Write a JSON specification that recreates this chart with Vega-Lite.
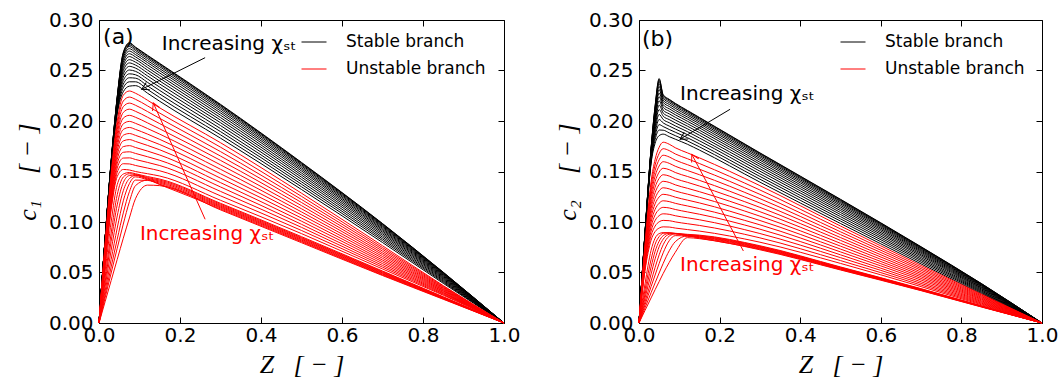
{
"$schema":"https://vega.github.io/schema/vega-lite/v6.json",
"background":"white",
"padding":{"left":13,"top":9,"right":5,"bottom":5},
"bounds":"flush",
"spacing":135,
"datasets":{
"as":[
{"i":0,"z":0,"c":0},{"i":0,"z":0.015,"c":0.083},{"i":0,"z":0.03,"c":0.160},{"i":0,"z":0.045,"c":0.224},{"i":0,"z":0.06,"c":0.268},{"i":0,"z":0.075,"c":0.2775},{"i":0,"z":0.09,"c":0.2732},{"i":0,"z":0.12,"c":0.2650},{"i":0,"z":0.15,"c":0.2570},{"i":0,"z":0.3,"c":0.2165},{"i":0,"z":0.5,"c":0.1590},{"i":0,"z":0.7,"c":0.0985},{"i":0,"z":0.85,"c":0.0503},{"i":0,"z":1,"c":0},
{"i":1,"z":0,"c":0},{"i":1,"z":0.015,"c":0.083},{"i":1,"z":0.03,"c":0.160},{"i":1,"z":0.045,"c":0.2237},{"i":1,"z":0.06,"c":0.2673},{"i":1,"z":0.075,"c":0.2768},{"i":1,"z":0.09,"c":0.2726},{"i":1,"z":0.12,"c":0.2644},{"i":1,"z":0.15,"c":0.2564},{"i":1,"z":0.3,"c":0.2159},{"i":1,"z":0.5,"c":0.1585},{"i":1,"z":0.7,"c":0.0982},{"i":1,"z":0.85,"c":0.0501},{"i":1,"z":1,"c":0},
{"i":2,"z":0,"c":0},{"i":2,"z":0.015,"c":0.083},{"i":2,"z":0.03,"c":0.160},{"i":2,"z":0.045,"c":0.2232},{"i":2,"z":0.06,"c":0.2661},{"i":2,"z":0.075,"c":0.2754},{"i":2,"z":0.09,"c":0.2713},{"i":2,"z":0.12,"c":0.2632},{"i":2,"z":0.15,"c":0.2552},{"i":2,"z":0.3,"c":0.2149},{"i":2,"z":0.5,"c":0.1577},{"i":2,"z":0.7,"c":0.0976},{"i":2,"z":0.85,"c":0.0498},{"i":2,"z":1,"c":0},
{"i":3,"z":0,"c":0},{"i":3,"z":0.015,"c":0.083},{"i":3,"z":0.03,"c":0.160},{"i":3,"z":0.045,"c":0.2225},{"i":3,"z":0.06,"c":0.2645},{"i":3,"z":0.075,"c":0.2737},{"i":3,"z":0.09,"c":0.2698},{"i":3,"z":0.12,"c":0.2617},{"i":3,"z":0.15,"c":0.2537},{"i":3,"z":0.3,"c":0.2135},{"i":3,"z":0.5,"c":0.1566},{"i":3,"z":0.7,"c":0.0968},{"i":3,"z":0.85,"c":0.0493},{"i":3,"z":1,"c":0},
{"i":4,"z":0,"c":0},{"i":4,"z":0.015,"c":0.0829},{"i":4,"z":0.03,"c":0.159},{"i":4,"z":0.045,"c":0.2217},{"i":4,"z":0.06,"c":0.2626},{"i":4,"z":0.075,"c":0.2716},{"i":4,"z":0.09,"c":0.2679},{"i":4,"z":0.12,"c":0.2598},{"i":4,"z":0.15,"c":0.2518},{"i":4,"z":0.3,"c":0.2119},{"i":4,"z":0.5,"c":0.1553},{"i":4,"z":0.7,"c":0.0959},{"i":4,"z":0.85,"c":0.0488},{"i":4,"z":1,"c":0},
{"i":5,"z":0,"c":0},{"i":5,"z":0.015,"c":0.0828},{"i":5,"z":0.03,"c":0.159},{"i":5,"z":0.045,"c":0.2207},{"i":5,"z":0.06,"c":0.2605},{"i":5,"z":0.075,"c":0.2692},{"i":5,"z":0.09,"c":0.2658},{"i":5,"z":0.12,"c":0.2578},{"i":5,"z":0.15,"c":0.2498},{"i":5,"z":0.3,"c":0.2100},{"i":5,"z":0.5,"c":0.1538},{"i":5,"z":0.7,"c":0.0949},{"i":5,"z":0.85,"c":0.0482},{"i":5,"z":1,"c":0},
{"i":6,"z":0,"c":0},{"i":6,"z":0.015,"c":0.0827},{"i":6,"z":0.03,"c":0.159},{"i":6,"z":0.045,"c":0.2197},{"i":6,"z":0.06,"c":0.2581},{"i":6,"z":0.075,"c":0.2666},{"i":6,"z":0.09,"c":0.2635},{"i":6,"z":0.12,"c":0.2555},{"i":6,"z":0.15,"c":0.2475},{"i":6,"z":0.3,"c":0.2080},{"i":6,"z":0.5,"c":0.1522},{"i":6,"z":0.7,"c":0.0937},{"i":6,"z":0.85,"c":0.0475},{"i":6,"z":1,"c":0},
{"i":7,"z":0,"c":0},{"i":7,"z":0.015,"c":0.0827},{"i":7,"z":0.03,"c":0.158},{"i":7,"z":0.045,"c":0.2186},{"i":7,"z":0.06,"c":0.2556},{"i":7,"z":0.075,"c":0.2638},{"i":7,"z":0.09,"c":0.2610},{"i":7,"z":0.12,"c":0.2530},{"i":7,"z":0.15,"c":0.2450},{"i":7,"z":0.3,"c":0.2058},{"i":7,"z":0.5,"c":0.1505},{"i":7,"z":0.7,"c":0.0925},{"i":7,"z":0.85,"c":0.0468},{"i":7,"z":1,"c":0},
{"i":8,"z":0,"c":0},{"i":8,"z":0.015,"c":0.0826},{"i":8,"z":0.03,"c":0.158},{"i":8,"z":0.045,"c":0.2174},{"i":8,"z":0.06,"c":0.2528},{"i":8,"z":0.075,"c":0.2607},{"i":8,"z":0.09,"c":0.2583},{"i":8,"z":0.12,"c":0.2504},{"i":8,"z":0.15,"c":0.2424},{"i":8,"z":0.3,"c":0.2034},{"i":8,"z":0.5,"c":0.1485},{"i":8,"z":0.7,"c":0.0912},{"i":8,"z":0.85,"c":0.0460},{"i":8,"z":1,"c":0},
{"i":9,"z":0,"c":0},{"i":9,"z":0.015,"c":0.0825},{"i":9,"z":0.03,"c":0.158},{"i":9,"z":0.045,"c":0.2161},{"i":9,"z":0.06,"c":0.2499},{"i":9,"z":0.075,"c":0.2575},{"i":9,"z":0.09,"c":0.2554},{"i":9,"z":0.12,"c":0.2476},{"i":9,"z":0.15,"c":0.2396},{"i":9,"z":0.3,"c":0.2009},{"i":9,"z":0.5,"c":0.1465},{"i":9,"z":0.7,"c":0.0898},{"i":9,"z":0.85,"c":0.0452},{"i":9,"z":1,"c":0},
{"i":10,"z":0,"c":0},{"i":10,"z":0.015,"c":0.0825},{"i":10,"z":0.03,"c":0.157},{"i":10,"z":0.045,"c":0.2148},{"i":10,"z":0.06,"c":0.2468},{"i":10,"z":0.075,"c":0.2541},{"i":10,"z":0.09,"c":0.2524},{"i":10,"z":0.12,"c":0.2446},{"i":10,"z":0.15,"c":0.2366},{"i":10,"z":0.3,"c":0.1983},{"i":10,"z":0.5,"c":0.1444},{"i":10,"z":0.7,"c":0.0883},{"i":10,"z":0.85,"c":0.0443},{"i":10,"z":1,"c":0},
{"i":11,"z":0,"c":0},{"i":11,"z":0.015,"c":0.0824},{"i":11,"z":0.03,"c":0.157},{"i":11,"z":0.045,"c":0.2133},{"i":11,"z":0.06,"c":0.2435},{"i":11,"z":0.075,"c":0.2505},{"i":11,"z":0.09,"c":0.2492},{"i":11,"z":0.12,"c":0.2415},{"i":11,"z":0.15,"c":0.2335},{"i":11,"z":0.3,"c":0.1955},{"i":11,"z":0.5,"c":0.1422},{"i":11,"z":0.7,"c":0.0867},{"i":11,"z":0.85,"c":0.0434},{"i":11,"z":1,"c":0},
{"i":12,"z":0,"c":0},{"i":12,"z":0.015,"c":0.0823},{"i":12,"z":0.03,"c":0.156},{"i":12,"z":0.045,"c":0.2118},{"i":12,"z":0.06,"c":0.2401},{"i":12,"z":0.075,"c":0.2467},{"i":12,"z":0.09,"c":0.2458},{"i":12,"z":0.12,"c":0.2382},{"i":12,"z":0.15,"c":0.2302},{"i":12,"z":0.3,"c":0.1925},{"i":12,"z":0.5,"c":0.1398},{"i":12,"z":0.7,"c":0.0850},{"i":12,"z":0.85,"c":0.0424},{"i":12,"z":1,"c":0},
{"i":13,"z":0,"c":0},{"i":13,"z":0.015,"c":0.0822},{"i":13,"z":0.03,"c":0.156},{"i":13,"z":0.045,"c":0.2103},{"i":13,"z":0.06,"c":0.2365},{"i":13,"z":0.075,"c":0.2428},{"i":13,"z":0.09,"c":0.2424},{"i":13,"z":0.12,"c":0.2347},{"i":13,"z":0.15,"c":0.2267},{"i":13,"z":0.3,"c":0.1895},{"i":13,"z":0.5,"c":0.1374},{"i":13,"z":0.7,"c":0.0833},{"i":13,"z":0.85,"c":0.0414},{"i":13,"z":1,"c":0},
{"i":14,"z":0,"c":0},{"i":14,"z":0.015,"c":0.0821},{"i":14,"z":0.03,"c":0.155},{"i":14,"z":0.045,"c":0.2087},{"i":14,"z":0.06,"c":0.2329},{"i":14,"z":0.075,"c":0.2388},{"i":14,"z":0.09,"c":0.2388},{"i":14,"z":0.12,"c":0.2312},{"i":14,"z":0.15,"c":0.2232},{"i":14,"z":0.3,"c":0.1863},{"i":14,"z":0.5,"c":0.1349},{"i":14,"z":0.7,"c":0.0816},{"i":14,"z":0.85,"c":0.0404},{"i":14,"z":1,"c":0},
{"i":15,"z":0,"c":0},{"i":15,"z":0.015,"c":0.082},{"i":15,"z":0.03,"c":0.155},{"i":15,"z":0.045,"c":0.207},{"i":15,"z":0.06,"c":0.229},{"i":15,"z":0.075,"c":0.2345},{"i":15,"z":0.09,"c":0.2350},{"i":15,"z":0.12,"c":0.2275},{"i":15,"z":0.15,"c":0.2195},{"i":15,"z":0.3,"c":0.1830},{"i":15,"z":0.5,"c":0.1322},{"i":15,"z":0.7,"c":0.0797},{"i":15,"z":0.85,"c":0.0393},{"i":15,"z":1,"c":0}
],
"au":[
{"i":0,"z":0,"c":0},{"i":0,"z":0.015,"c":0.078},{"i":0,"z":0.03,"c":0.148},{"i":0,"z":0.045,"c":0.200},{"i":0,"z":0.06,"c":0.2255},{"i":0,"z":0.075,"c":0.2297},{"i":0,"z":0.09,"c":0.2275},{"i":0,"z":0.12,"c":0.2205},{"i":0,"z":0.15,"c":0.213},{"i":0,"z":0.3,"c":0.1785},{"i":0,"z":0.5,"c":0.1285},{"i":0,"z":0.7,"c":0.0765},{"i":0,"z":0.85,"c":0.0370},{"i":0,"z":1,"c":0},
{"i":1,"z":0,"c":0},{"i":1,"z":0.015,"c":0.0764},{"i":1,"z":0.03,"c":0.1452},{"i":1,"z":0.045,"c":0.1958},{"i":1,"z":0.06,"c":0.2198},{"i":1,"z":0.075,"c":0.2237},{"i":1,"z":0.09,"c":0.2215},{"i":1,"z":0.12,"c":0.2149},{"i":1,"z":0.15,"c":0.2078},{"i":1,"z":0.3,"c":0.1741},{"i":1,"z":0.5,"c":0.1254},{"i":1,"z":0.7,"c":0.0747},{"i":1,"z":0.85,"c":0.0363},{"i":1,"z":1,"c":0},
{"i":2,"z":0,"c":0},{"i":2,"z":0.015,"c":0.0748},{"i":2,"z":0.03,"c":0.1425},{"i":2,"z":0.045,"c":0.1915},{"i":2,"z":0.06,"c":0.2142},{"i":2,"z":0.075,"c":0.2177},{"i":2,"z":0.09,"c":0.2156},{"i":2,"z":0.12,"c":0.2093},{"i":2,"z":0.15,"c":0.2026},{"i":2,"z":0.3,"c":0.1697},{"i":2,"z":0.5,"c":0.1223},{"i":2,"z":0.7,"c":0.0730},{"i":2,"z":0.85,"c":0.0355},{"i":2,"z":1,"c":0},
{"i":3,"z":0,"c":0},{"i":3,"z":0.015,"c":0.0732},{"i":3,"z":0.03,"c":0.1397},{"i":3,"z":0.045,"c":0.1873},{"i":3,"z":0.06,"c":0.2085},{"i":3,"z":0.075,"c":0.2117},{"i":3,"z":0.09,"c":0.2096},{"i":3,"z":0.12,"c":0.2037},{"i":3,"z":0.15,"c":0.1974},{"i":3,"z":0.3,"c":0.1653},{"i":3,"z":0.5,"c":0.1193},{"i":3,"z":0.7,"c":0.0712},{"i":3,"z":0.85,"c":0.0348},{"i":3,"z":1,"c":0},
{"i":4,"z":0,"c":0},{"i":4,"z":0.015,"c":0.0715},{"i":4,"z":0.03,"c":0.1369},{"i":4,"z":0.045,"c":0.1831},{"i":4,"z":0.06,"c":0.2029},{"i":4,"z":0.075,"c":0.2056},{"i":4,"z":0.09,"c":0.2037},{"i":4,"z":0.12,"c":0.1981},{"i":4,"z":0.15,"c":0.1922},{"i":4,"z":0.3,"c":0.1610},{"i":4,"z":0.5,"c":0.1162},{"i":4,"z":0.7,"c":0.0694},{"i":4,"z":0.85,"c":0.0341},{"i":4,"z":1,"c":0},
{"i":5,"z":0,"c":0},{"i":5,"z":0.015,"c":0.0699},{"i":5,"z":0.03,"c":0.1342},{"i":5,"z":0.045,"c":0.1788},{"i":5,"z":0.06,"c":0.1972},{"i":5,"z":0.075,"c":0.1996},{"i":5,"z":0.09,"c":0.1977},{"i":5,"z":0.12,"c":0.1925},{"i":5,"z":0.15,"c":0.1870},{"i":5,"z":0.3,"c":0.1566},{"i":5,"z":0.5,"c":0.1131},{"i":5,"z":0.7,"c":0.0677},{"i":5,"z":0.85,"c":0.0333},{"i":5,"z":1,"c":0},
{"i":6,"z":0,"c":0},{"i":6,"z":0.015,"c":0.0683},{"i":6,"z":0.03,"c":0.1314},{"i":6,"z":0.045,"c":0.1746},{"i":6,"z":0.06,"c":0.1916},{"i":6,"z":0.075,"c":0.1936},{"i":6,"z":0.09,"c":0.1917},{"i":6,"z":0.12,"c":0.1870},{"i":6,"z":0.15,"c":0.1818},{"i":6,"z":0.3,"c":0.1522},{"i":6,"z":0.5,"c":0.1100},{"i":6,"z":0.7,"c":0.0659},{"i":6,"z":0.85,"c":0.0326},{"i":6,"z":1,"c":0},
{"i":7,"z":0,"c":0},{"i":7,"z":0.015,"c":0.0667},{"i":7,"z":0.03,"c":0.1286},{"i":7,"z":0.045,"c":0.1704},{"i":7,"z":0.06,"c":0.1859},{"i":7,"z":0.075,"c":0.1876},{"i":7,"z":0.09,"c":0.1858},{"i":7,"z":0.12,"c":0.1814},{"i":7,"z":0.15,"c":0.1767},{"i":7,"z":0.3,"c":0.1478},{"i":7,"z":0.5,"c":0.1070},{"i":7,"z":0.7,"c":0.0641},{"i":7,"z":0.85,"c":0.0319},{"i":7,"z":1,"c":0},
{"i":8,"z":0,"c":0},{"i":8,"z":0.015,"c":0.0651},{"i":8,"z":0.03,"c":0.1258},{"i":8,"z":0.045,"c":0.1662},{"i":8,"z":0.06,"c":0.1803},{"i":8,"z":0.075,"c":0.1816},{"i":8,"z":0.09,"c":0.1798},{"i":8,"z":0.12,"c":0.1758},{"i":8,"z":0.15,"c":0.1715},{"i":8,"z":0.3,"c":0.1434},{"i":8,"z":0.5,"c":0.1039},{"i":8,"z":0.7,"c":0.0623},{"i":8,"z":0.85,"c":0.0312},{"i":8,"z":1,"c":0},
{"i":9,"z":0,"c":0},{"i":9,"z":0.015,"c":0.0635},{"i":9,"z":0.03,"c":0.1231},{"i":9,"z":0.045,"c":0.1619},{"i":9,"z":0.06,"c":0.1746},{"i":9,"z":0.075,"c":0.1756},{"i":9,"z":0.09,"c":0.1738},{"i":9,"z":0.12,"c":0.1702},{"i":9,"z":0.15,"c":0.1663},{"i":9,"z":0.3,"c":0.1390},{"i":9,"z":0.5,"c":0.1008},{"i":9,"z":0.7,"c":0.0606},{"i":9,"z":0.85,"c":0.0304},{"i":9,"z":1,"c":0},
{"i":10,"z":0,"c":0},{"i":10,"z":0.015,"c":0.0618},{"i":10,"z":0.03,"c":0.1203},{"i":10,"z":0.045,"c":0.1577},{"i":10,"z":0.06,"c":0.1690},{"i":10,"z":0.075,"c":0.1695},{"i":10,"z":0.09,"c":0.1679},{"i":10,"z":0.12,"c":0.1646},{"i":10,"z":0.15,"c":0.1611},{"i":10,"z":0.3,"c":0.1347},{"i":10,"z":0.5,"c":0.0977},{"i":10,"z":0.7,"c":0.0588},{"i":10,"z":0.85,"c":0.0297},{"i":10,"z":1,"c":0},
{"i":11,"z":0,"c":0},{"i":11,"z":0.015,"c":0.0602},{"i":11,"z":0.03,"c":0.1175},{"i":11,"z":0.045,"c":0.1535},{"i":11,"z":0.06,"c":0.1633},{"i":11,"z":0.075,"c":0.1635},{"i":11,"z":0.09,"c":0.1619},{"i":11,"z":0.12,"c":0.1590},{"i":11,"z":0.15,"c":0.1559},{"i":11,"z":0.3,"c":0.1303},{"i":11,"z":0.5,"c":0.0947},{"i":11,"z":0.7,"c":0.0570},{"i":11,"z":0.85,"c":0.0290},{"i":11,"z":1,"c":0},
{"i":12,"z":0,"c":0},{"i":12,"z":0.015,"c":0.0586},{"i":12,"z":0.03,"c":0.1148},{"i":12,"z":0.045,"c":0.1492},{"i":12,"z":0.06,"c":0.1577},{"i":12,"z":0.075,"c":0.1575},{"i":12,"z":0.09,"c":0.1560},{"i":12,"z":0.12,"c":0.1534},{"i":12,"z":0.15,"c":0.1507},{"i":12,"z":0.3,"c":0.1259},{"i":12,"z":0.5,"c":0.0916},{"i":12,"z":0.7,"c":0.0553},{"i":12,"z":0.85,"c":0.0282},{"i":12,"z":1,"c":0},
{"i":13,"z":0,"c":0},{"i":13,"z":0.015,"c":0.057},{"i":13,"z":0.03,"c":0.112},{"i":13,"z":0.045,"c":0.145},{"i":13,"z":0.06,"c":0.152},{"i":13,"z":0.075,"c":0.1515},{"i":13,"z":0.09,"c":0.150},{"i":13,"z":0.12,"c":0.1478},{"i":13,"z":0.15,"c":0.1455},{"i":13,"z":0.3,"c":0.1215},{"i":13,"z":0.5,"c":0.0885},{"i":13,"z":0.7,"c":0.0535},{"i":13,"z":0.85,"c":0.0275},{"i":13,"z":1,"c":0},
{"i":14,"z":0,"c":0},{"i":14,"z":0.015,"c":0.051},{"i":14,"z":0.03,"c":0.100},{"i":14,"z":0.045,"c":0.137},{"i":14,"z":0.06,"c":0.1475},{"i":14,"z":0.075,"c":0.149},{"i":14,"z":0.09,"c":0.1478},{"i":14,"z":0.12,"c":0.1450},{"i":14,"z":0.15,"c":0.1425},{"i":14,"z":0.3,"c":0.1185},{"i":14,"z":0.5,"c":0.0855},{"i":14,"z":0.7,"c":0.0515},{"i":14,"z":0.85,"c":0.0260},{"i":14,"z":1,"c":0},
{"i":15,"z":0,"c":0},{"i":15,"z":0.015,"c":0.045},{"i":15,"z":0.03,"c":0.089},{"i":15,"z":0.045,"c":0.127},{"i":15,"z":0.06,"c":0.1445},{"i":15,"z":0.075,"c":0.1478},{"i":15,"z":0.09,"c":0.1470},{"i":15,"z":0.12,"c":0.1440},{"i":15,"z":0.15,"c":0.1415},{"i":15,"z":0.3,"c":0.1176},{"i":15,"z":0.5,"c":0.0846},{"i":15,"z":0.7,"c":0.0509},{"i":15,"z":0.85,"c":0.0256},{"i":15,"z":1,"c":0},
{"i":16,"z":0,"c":0},{"i":16,"z":0.015,"c":0.0405},{"i":16,"z":0.03,"c":0.081},{"i":16,"z":0.045,"c":0.117},{"i":16,"z":0.06,"c":0.139},{"i":16,"z":0.075,"c":0.146},{"i":16,"z":0.09,"c":0.1465},{"i":16,"z":0.12,"c":0.1432},{"i":16,"z":0.15,"c":0.1405},{"i":16,"z":0.3,"c":0.1166},{"i":16,"z":0.5,"c":0.0838},{"i":16,"z":0.7,"c":0.0502},{"i":16,"z":0.85,"c":0.0253},{"i":16,"z":1,"c":0},
{"i":17,"z":0,"c":0},{"i":17,"z":0.015,"c":0.036},{"i":17,"z":0.03,"c":0.072},{"i":17,"z":0.045,"c":0.106},{"i":17,"z":0.06,"c":0.131},{"i":17,"z":0.075,"c":0.143},{"i":17,"z":0.09,"c":0.1460},{"i":17,"z":0.12,"c":0.1425},{"i":17,"z":0.15,"c":0.1395},{"i":17,"z":0.3,"c":0.1157},{"i":17,"z":0.5,"c":0.0829},{"i":17,"z":0.7,"c":0.0496},{"i":17,"z":0.85,"c":0.0249},{"i":17,"z":1,"c":0},
{"i":18,"z":0,"c":0},{"i":18,"z":0.015,"c":0.0315},{"i":18,"z":0.03,"c":0.063},{"i":18,"z":0.045,"c":0.094},{"i":18,"z":0.06,"c":0.121},{"i":18,"z":0.075,"c":0.138},{"i":18,"z":0.09,"c":0.1447},{"i":18,"z":0.12,"c":0.1418},{"i":18,"z":0.15,"c":0.1385},{"i":18,"z":0.3,"c":0.1148},{"i":18,"z":0.5,"c":0.0821},{"i":18,"z":0.7,"c":0.0489},{"i":18,"z":0.85,"c":0.0246},{"i":18,"z":1,"c":0},
{"i":19,"z":0,"c":0},{"i":19,"z":0.015,"c":0.0278},{"i":19,"z":0.03,"c":0.0555},{"i":19,"z":0.045,"c":0.083},{"i":19,"z":0.06,"c":0.109},{"i":19,"z":0.075,"c":0.130},{"i":19,"z":0.09,"c":0.1415},{"i":19,"z":0.12,"c":0.1412},{"i":19,"z":0.15,"c":0.1375},{"i":19,"z":0.3,"c":0.1139},{"i":19,"z":0.5,"c":0.0812},{"i":19,"z":0.7,"c":0.0483},{"i":19,"z":0.85,"c":0.0242},{"i":19,"z":1,"c":0},
{"i":20,"z":0,"c":0},{"i":20,"z":0.015,"c":0.0248},{"i":20,"z":0.03,"c":0.0495},{"i":20,"z":0.045,"c":0.074},{"i":20,"z":0.06,"c":0.098},{"i":20,"z":0.075,"c":0.120},{"i":20,"z":0.09,"c":0.136},{"i":20,"z":0.12,"c":0.1415},{"i":20,"z":0.15,"c":0.1370},{"i":20,"z":0.3,"c":0.1129},{"i":20,"z":0.5,"c":0.0804},{"i":20,"z":0.7,"c":0.0476},{"i":20,"z":0.85,"c":0.0239},{"i":20,"z":1,"c":0},
{"i":21,"z":0,"c":0},{"i":21,"z":0.015,"c":0.021},{"i":21,"z":0.03,"c":0.042},{"i":21,"z":0.045,"c":0.063},{"i":21,"z":0.06,"c":0.084},{"i":21,"z":0.075,"c":0.104},{"i":21,"z":0.09,"c":0.123},{"i":21,"z":0.12,"c":0.1365},{"i":21,"z":0.15,"c":0.1360},{"i":21,"z":0.3,"c":0.1120},{"i":21,"z":0.5,"c":0.0795},{"i":21,"z":0.7,"c":0.0470},{"i":21,"z":0.85,"c":0.0235},{"i":21,"z":1,"c":0}
],
"bs":[
{"i":0,"z":0,"c":0},{"i":0,"z":0.015,"c":0.090},{"i":0,"z":0.03,"c":0.173},{"i":0,"z":0.04,"c":0.215},{"i":0,"z":0.05,"c":0.242},{"i":0,"z":0.06,"c":0.226},{"i":0,"z":0.075,"c":0.2215},{"i":0,"z":0.09,"c":0.2175},{"i":0,"z":0.12,"c":0.2105},{"i":0,"z":0.15,"c":0.2035},{"i":0,"z":0.3,"c":0.1685},{"i":0,"z":0.5,"c":0.1225},{"i":0,"z":0.7,"c":0.0755},{"i":0,"z":0.85,"c":0.0390},{"i":0,"z":1,"c":0},
{"i":1,"z":0,"c":0},{"i":1,"z":0.015,"c":0.0899},{"i":1,"z":0.03,"c":0.1727},{"i":1,"z":0.04,"c":0.2144},{"i":1,"z":0.05,"c":0.2410},{"i":1,"z":0.06,"c":0.2253},{"i":1,"z":0.075,"c":0.2209},{"i":1,"z":0.09,"c":0.2169},{"i":1,"z":0.12,"c":0.2099},{"i":1,"z":0.15,"c":0.2030},{"i":1,"z":0.3,"c":0.1680},{"i":1,"z":0.5,"c":0.1221},{"i":1,"z":0.7,"c":0.0752},{"i":1,"z":0.85,"c":0.0388},{"i":1,"z":1,"c":0},
{"i":2,"z":0,"c":0},{"i":2,"z":0.015,"c":0.0898},{"i":2,"z":0.03,"c":0.1723},{"i":2,"z":0.04,"c":0.2132},{"i":2,"z":0.05,"c":0.2392},{"i":2,"z":0.06,"c":0.2241},{"i":2,"z":0.075,"c":0.2197},{"i":2,"z":0.09,"c":0.2158},{"i":2,"z":0.12,"c":0.2089},{"i":2,"z":0.15,"c":0.2019},{"i":2,"z":0.3,"c":0.1671},{"i":2,"z":0.5,"c":0.1213},{"i":2,"z":0.7,"c":0.0747},{"i":2,"z":0.85,"c":0.0385},{"i":2,"z":1,"c":0},
{"i":3,"z":0,"c":0},{"i":3,"z":0.015,"c":0.0896},{"i":3,"z":0.03,"c":0.1717},{"i":3,"z":0.04,"c":0.2117},{"i":3,"z":0.05,"c":0.2370},{"i":3,"z":0.06,"c":0.2225},{"i":3,"z":0.075,"c":0.2182},{"i":3,"z":0.09,"c":0.2143},{"i":3,"z":0.12,"c":0.2075},{"i":3,"z":0.15,"c":0.2006},{"i":3,"z":0.3,"c":0.1659},{"i":3,"z":0.5,"c":0.1204},{"i":3,"z":0.7,"c":0.0740},{"i":3,"z":0.85,"c":0.0381},{"i":3,"z":1,"c":0},
{"i":4,"z":0,"c":0},{"i":4,"z":0.015,"c":0.0894},{"i":4,"z":0.03,"c":0.1709},{"i":4,"z":0.04,"c":0.2099},{"i":4,"z":0.05,"c":0.2342},{"i":4,"z":0.06,"c":0.2206},{"i":4,"z":0.075,"c":0.2164},{"i":4,"z":0.09,"c":0.2126},{"i":4,"z":0.12,"c":0.2059},{"i":4,"z":0.15,"c":0.1990},{"i":4,"z":0.3,"c":0.1645},{"i":4,"z":0.5,"c":0.1192},{"i":4,"z":0.7,"c":0.0732},{"i":4,"z":0.85,"c":0.0376},{"i":4,"z":1,"c":0},
{"i":5,"z":0,"c":0},{"i":5,"z":0.015,"c":0.0892},{"i":5,"z":0.03,"c":0.1701},{"i":5,"z":0.04,"c":0.2079},{"i":5,"z":0.05,"c":0.2311},{"i":5,"z":0.06,"c":0.2185},{"i":5,"z":0.075,"c":0.2144},{"i":5,"z":0.09,"c":0.2106},{"i":5,"z":0.12,"c":0.2040},{"i":5,"z":0.15,"c":0.1973},{"i":5,"z":0.3,"c":0.1629},{"i":5,"z":0.5,"c":0.1179},{"i":5,"z":0.7,"c":0.0722},{"i":5,"z":0.85,"c":0.0371},{"i":5,"z":1,"c":0},
{"i":6,"z":0,"c":0},{"i":6,"z":0.015,"c":0.0890},{"i":6,"z":0.03,"c":0.1692},{"i":6,"z":0.04,"c":0.2056},{"i":6,"z":0.05,"c":0.2277},{"i":6,"z":0.06,"c":0.2161},{"i":6,"z":0.075,"c":0.2121},{"i":6,"z":0.09,"c":0.2085},{"i":6,"z":0.12,"c":0.2020},{"i":6,"z":0.15,"c":0.1953},{"i":6,"z":0.3,"c":0.1612},{"i":6,"z":0.5,"c":0.1164},{"i":6,"z":0.7,"c":0.0712},{"i":6,"z":0.85,"c":0.0365},{"i":6,"z":1,"c":0},
{"i":7,"z":0,"c":0},{"i":7,"z":0.015,"c":0.0887},{"i":7,"z":0.03,"c":0.1682},{"i":7,"z":0.04,"c":0.2032},{"i":7,"z":0.05,"c":0.2240},{"i":7,"z":0.06,"c":0.2136},{"i":7,"z":0.075,"c":0.2097},{"i":7,"z":0.09,"c":0.2062},{"i":7,"z":0.12,"c":0.1998},{"i":7,"z":0.15,"c":0.1932},{"i":7,"z":0.3,"c":0.1592},{"i":7,"z":0.5,"c":0.1148},{"i":7,"z":0.7,"c":0.0701},{"i":7,"z":0.85,"c":0.0358},{"i":7,"z":1,"c":0},
{"i":8,"z":0,"c":0},{"i":8,"z":0.015,"c":0.0884},{"i":8,"z":0.03,"c":0.1672},{"i":8,"z":0.04,"c":0.2006},{"i":8,"z":0.05,"c":0.2200},{"i":8,"z":0.06,"c":0.2108},{"i":8,"z":0.075,"c":0.2071},{"i":8,"z":0.09,"c":0.2037},{"i":8,"z":0.12,"c":0.1974},{"i":8,"z":0.15,"c":0.1909},{"i":8,"z":0.3,"c":0.1572},{"i":8,"z":0.5,"c":0.1131},{"i":8,"z":0.7,"c":0.0689},{"i":8,"z":0.85,"c":0.0351},{"i":8,"z":1,"c":0},
{"i":9,"z":0,"c":0},{"i":9,"z":0.015,"c":0.0881},{"i":9,"z":0.03,"c":0.1660},{"i":9,"z":0.04,"c":0.1978},{"i":9,"z":0.05,"c":0.2157},{"i":9,"z":0.06,"c":0.2079},{"i":9,"z":0.075,"c":0.2043},{"i":9,"z":0.09,"c":0.2010},{"i":9,"z":0.12,"c":0.1949},{"i":9,"z":0.15,"c":0.1885},{"i":9,"z":0.3,"c":0.1550},{"i":9,"z":0.5,"c":0.1113},{"i":9,"z":0.7,"c":0.0676},{"i":9,"z":0.85,"c":0.0344},{"i":9,"z":1,"c":0},
{"i":10,"z":0,"c":0},{"i":10,"z":0.015,"c":0.0878},{"i":10,"z":0.03,"c":0.1648},{"i":10,"z":0.04,"c":0.1949},{"i":10,"z":0.05,"c":0.2113},{"i":10,"z":0.06,"c":0.2048},{"i":10,"z":0.075,"c":0.2014},{"i":10,"z":0.09,"c":0.1982},{"i":10,"z":0.12,"c":0.1923},{"i":10,"z":0.15,"c":0.1859},{"i":10,"z":0.3,"c":0.1527},{"i":10,"z":0.5,"c":0.1094},{"i":10,"z":0.7,"c":0.0663},{"i":10,"z":0.85,"c":0.0336},{"i":10,"z":1,"c":0},
{"i":11,"z":0,"c":0},{"i":11,"z":0.015,"c":0.0875},{"i":11,"z":0.03,"c":0.1636},{"i":11,"z":0.04,"c":0.1918},{"i":11,"z":0.05,"c":0.2065},{"i":11,"z":0.06,"c":0.2015},{"i":11,"z":0.075,"c":0.1983},{"i":11,"z":0.09,"c":0.1952},{"i":11,"z":0.12,"c":0.1895},{"i":11,"z":0.15,"c":0.1832},{"i":11,"z":0.3,"c":0.1503},{"i":11,"z":0.5,"c":0.1074},{"i":11,"z":0.7,"c":0.0648},{"i":11,"z":0.85,"c":0.0327},{"i":11,"z":1,"c":0},
{"i":12,"z":0,"c":0},{"i":12,"z":0.015,"c":0.0871},{"i":12,"z":0.03,"c":0.1623},{"i":12,"z":0.04,"c":0.1885},{"i":12,"z":0.05,"c":0.2015},{"i":12,"z":0.06,"c":0.1981},{"i":12,"z":0.075,"c":0.1950},{"i":12,"z":0.09,"c":0.1921},{"i":12,"z":0.12,"c":0.1865},{"i":12,"z":0.15,"c":0.1804},{"i":12,"z":0.3,"c":0.1477},{"i":12,"z":0.5,"c":0.1053},{"i":12,"z":0.7,"c":0.0633},{"i":12,"z":0.85,"c":0.0318},{"i":12,"z":1,"c":0},
{"i":13,"z":0,"c":0},{"i":13,"z":0.015,"c":0.0868},{"i":13,"z":0.03,"c":0.1609},{"i":13,"z":0.04,"c":0.1851},{"i":13,"z":0.05,"c":0.1964},{"i":13,"z":0.06,"c":0.1945},{"i":13,"z":0.075,"c":0.1916},{"i":13,"z":0.09,"c":0.1889},{"i":13,"z":0.12,"c":0.1835},{"i":13,"z":0.15,"c":0.1774},{"i":13,"z":0.3,"c":0.1451},{"i":13,"z":0.5,"c":0.1031},{"i":13,"z":0.7,"c":0.0618},{"i":13,"z":0.85,"c":0.0309},{"i":13,"z":1,"c":0},
{"i":14,"z":0,"c":0},{"i":14,"z":0.015,"c":0.0864},{"i":14,"z":0.03,"c":0.1595},{"i":14,"z":0.04,"c":0.1817},{"i":14,"z":0.05,"c":0.1911},{"i":14,"z":0.06,"c":0.1909},{"i":14,"z":0.075,"c":0.1882},{"i":14,"z":0.09,"c":0.1855},{"i":14,"z":0.12,"c":0.1803},{"i":14,"z":0.15,"c":0.1744},{"i":14,"z":0.3,"c":0.1424},{"i":14,"z":0.5,"c":0.1009},{"i":14,"z":0.7,"c":0.0602},{"i":14,"z":0.85,"c":0.0300},{"i":14,"z":1,"c":0},
{"i":15,"z":0,"c":0},{"i":15,"z":0.015,"c":0.086},{"i":15,"z":0.03,"c":0.158},{"i":15,"z":0.04,"c":0.178},{"i":15,"z":0.05,"c":0.1855},{"i":15,"z":0.06,"c":0.187},{"i":15,"z":0.075,"c":0.1845},{"i":15,"z":0.09,"c":0.182},{"i":15,"z":0.12,"c":0.1770},{"i":15,"z":0.15,"c":0.1712},{"i":15,"z":0.3,"c":0.1395},{"i":15,"z":0.5,"c":0.0985},{"i":15,"z":0.7,"c":0.0585},{"i":15,"z":0.85,"c":0.0290},{"i":15,"z":1,"c":0}
],
"bu":[
{"i":0,"z":0,"c":0},{"i":0,"z":0.015,"c":0.078},{"i":0,"z":0.03,"c":0.140},{"i":0,"z":0.04,"c":0.162},{"i":0,"z":0.05,"c":0.174},{"i":0,"z":0.06,"c":0.179},{"i":0,"z":0.075,"c":0.177},{"i":0,"z":0.09,"c":0.1735},{"i":0,"z":0.12,"c":0.1685},{"i":0,"z":0.15,"c":0.1635},{"i":0,"z":0.3,"c":0.136},{"i":0,"z":0.5,"c":0.096},{"i":0,"z":0.7,"c":0.057},{"i":0,"z":0.85,"c":0.0285},{"i":0,"z":1,"c":0},
{"i":1,"z":0,"c":0},{"i":1,"z":0.015,"c":0.0760},{"i":1,"z":0.03,"c":0.1355},{"i":1,"z":0.04,"c":0.1565},{"i":1,"z":0.05,"c":0.1678},{"i":1,"z":0.06,"c":0.1726},{"i":1,"z":0.075,"c":0.1707},{"i":1,"z":0.09,"c":0.1674},{"i":1,"z":0.12,"c":0.1627},{"i":1,"z":0.15,"c":0.1579},{"i":1,"z":0.3,"c":0.1317},{"i":1,"z":0.5,"c":0.0932},{"i":1,"z":0.7,"c":0.0554},{"i":1,"z":0.85,"c":0.0277},{"i":1,"z":1,"c":0},
{"i":2,"z":0,"c":0},{"i":2,"z":0.015,"c":0.0740},{"i":2,"z":0.03,"c":0.1311},{"i":2,"z":0.04,"c":0.1510},{"i":2,"z":0.05,"c":0.1617},{"i":2,"z":0.06,"c":0.1661},{"i":2,"z":0.075,"c":0.1644},{"i":2,"z":0.09,"c":0.1613},{"i":2,"z":0.12,"c":0.1568},{"i":2,"z":0.15,"c":0.1523},{"i":2,"z":0.3,"c":0.1274},{"i":2,"z":0.5,"c":0.0903},{"i":2,"z":0.7,"c":0.0538},{"i":2,"z":0.85,"c":0.0269},{"i":2,"z":1,"c":0},
{"i":3,"z":0,"c":0},{"i":3,"z":0.015,"c":0.0720},{"i":3,"z":0.03,"c":0.1266},{"i":3,"z":0.04,"c":0.1455},{"i":3,"z":0.05,"c":0.1555},{"i":3,"z":0.06,"c":0.1597},{"i":3,"z":0.075,"c":0.1581},{"i":3,"z":0.09,"c":0.1552},{"i":3,"z":0.12,"c":0.1510},{"i":3,"z":0.15,"c":0.1468},{"i":3,"z":0.3,"c":0.1231},{"i":3,"z":0.5,"c":0.0875},{"i":3,"z":0.7,"c":0.0522},{"i":3,"z":0.85,"c":0.0261},{"i":3,"z":1,"c":0},
{"i":4,"z":0,"c":0},{"i":4,"z":0.015,"c":0.0700},{"i":4,"z":0.03,"c":0.1222},{"i":4,"z":0.04,"c":0.1400},{"i":4,"z":0.05,"c":0.1494},{"i":4,"z":0.06,"c":0.1532},{"i":4,"z":0.075,"c":0.1518},{"i":4,"z":0.09,"c":0.1490},{"i":4,"z":0.12,"c":0.1451},{"i":4,"z":0.15,"c":0.1412},{"i":4,"z":0.3,"c":0.1188},{"i":4,"z":0.5,"c":0.0846},{"i":4,"z":0.7,"c":0.0505},{"i":4,"z":0.85,"c":0.0253},{"i":4,"z":1,"c":0},
{"i":5,"z":0,"c":0},{"i":5,"z":0.015,"c":0.0680},{"i":5,"z":0.03,"c":0.1177},{"i":5,"z":0.04,"c":0.1345},{"i":5,"z":0.05,"c":0.1432},{"i":5,"z":0.06,"c":0.1468},{"i":5,"z":0.075,"c":0.1455},{"i":5,"z":0.09,"c":0.1429},{"i":5,"z":0.12,"c":0.1393},{"i":5,"z":0.15,"c":0.1356},{"i":5,"z":0.3,"c":0.1145},{"i":5,"z":0.5,"c":0.0818},{"i":5,"z":0.7,"c":0.0489},{"i":5,"z":0.85,"c":0.0245},{"i":5,"z":1,"c":0},
{"i":6,"z":0,"c":0},{"i":6,"z":0.015,"c":0.0660},{"i":6,"z":0.03,"c":0.1132},{"i":6,"z":0.04,"c":0.1290},{"i":6,"z":0.05,"c":0.1371},{"i":6,"z":0.06,"c":0.1403},{"i":6,"z":0.075,"c":0.1392},{"i":6,"z":0.09,"c":0.1368},{"i":6,"z":0.12,"c":0.1334},{"i":6,"z":0.15,"c":0.1300},{"i":6,"z":0.3,"c":0.1102},{"i":6,"z":0.5,"c":0.0789},{"i":6,"z":0.7,"c":0.0473},{"i":6,"z":0.85,"c":0.0237},{"i":6,"z":1,"c":0},
{"i":7,"z":0,"c":0},{"i":7,"z":0.015,"c":0.0640},{"i":7,"z":0.03,"c":0.1088},{"i":7,"z":0.04,"c":0.1235},{"i":7,"z":0.05,"c":0.1309},{"i":7,"z":0.06,"c":0.1339},{"i":7,"z":0.075,"c":0.1328},{"i":7,"z":0.09,"c":0.1307},{"i":7,"z":0.12,"c":0.1276},{"i":7,"z":0.15,"c":0.1245},{"i":7,"z":0.3,"c":0.1058},{"i":7,"z":0.5,"c":0.0761},{"i":7,"z":0.7,"c":0.0457},{"i":7,"z":0.85,"c":0.0229},{"i":7,"z":1,"c":0},
{"i":8,"z":0,"c":0},{"i":8,"z":0.015,"c":0.0620},{"i":8,"z":0.03,"c":0.1043},{"i":8,"z":0.04,"c":0.1180},{"i":8,"z":0.05,"c":0.1248},{"i":8,"z":0.06,"c":0.1274},{"i":8,"z":0.075,"c":0.1265},{"i":8,"z":0.09,"c":0.1246},{"i":8,"z":0.12,"c":0.1217},{"i":8,"z":0.15,"c":0.1189},{"i":8,"z":0.3,"c":0.1015},{"i":8,"z":0.5,"c":0.0732},{"i":8,"z":0.7,"c":0.0441},{"i":8,"z":0.85,"c":0.0220},{"i":8,"z":1,"c":0},
{"i":9,"z":0,"c":0},{"i":9,"z":0.015,"c":0.0600},{"i":9,"z":0.03,"c":0.0998},{"i":9,"z":0.04,"c":0.1125},{"i":9,"z":0.05,"c":0.1186},{"i":9,"z":0.06,"c":0.1210},{"i":9,"z":0.075,"c":0.1202},{"i":9,"z":0.09,"c":0.1185},{"i":9,"z":0.12,"c":0.1159},{"i":9,"z":0.15,"c":0.1133},{"i":9,"z":0.3,"c":0.0972},{"i":9,"z":0.5,"c":0.0704},{"i":9,"z":0.7,"c":0.0425},{"i":9,"z":0.85,"c":0.0212},{"i":9,"z":1,"c":0},
{"i":10,"z":0,"c":0},{"i":10,"z":0.015,"c":0.0580},{"i":10,"z":0.03,"c":0.0954},{"i":10,"z":0.04,"c":0.1070},{"i":10,"z":0.05,"c":0.1125},{"i":10,"z":0.06,"c":0.1145},{"i":10,"z":0.075,"c":0.1139},{"i":10,"z":0.09,"c":0.1124},{"i":10,"z":0.12,"c":0.1100},{"i":10,"z":0.15,"c":0.1077},{"i":10,"z":0.3,"c":0.0929},{"i":10,"z":0.5,"c":0.0675},{"i":10,"z":0.7,"c":0.0408},{"i":10,"z":0.85,"c":0.0204},{"i":10,"z":1,"c":0},
{"i":11,"z":0,"c":0},{"i":11,"z":0.015,"c":0.0560},{"i":11,"z":0.03,"c":0.0909},{"i":11,"z":0.04,"c":0.1015},{"i":11,"z":0.05,"c":0.1063},{"i":11,"z":0.06,"c":0.1081},{"i":11,"z":0.075,"c":0.1076},{"i":11,"z":0.09,"c":0.1062},{"i":11,"z":0.12,"c":0.1042},{"i":11,"z":0.15,"c":0.1022},{"i":11,"z":0.3,"c":0.0886},{"i":11,"z":0.5,"c":0.0647},{"i":11,"z":0.7,"c":0.0392},{"i":11,"z":0.85,"c":0.0196},{"i":11,"z":1,"c":0},
{"i":12,"z":0,"c":0},{"i":12,"z":0.015,"c":0.0540},{"i":12,"z":0.03,"c":0.0865},{"i":12,"z":0.04,"c":0.0960},{"i":12,"z":0.05,"c":0.1002},{"i":12,"z":0.06,"c":0.1016},{"i":12,"z":0.075,"c":0.1013},{"i":12,"z":0.09,"c":0.1001},{"i":12,"z":0.12,"c":0.0983},{"i":12,"z":0.15,"c":0.0966},{"i":12,"z":0.3,"c":0.0843},{"i":12,"z":0.5,"c":0.0618},{"i":12,"z":0.7,"c":0.0376},{"i":12,"z":0.85,"c":0.0188},{"i":12,"z":1,"c":0},
{"i":13,"z":0,"c":0},{"i":13,"z":0.015,"c":0.052},{"i":13,"z":0.03,"c":0.082},{"i":13,"z":0.04,"c":0.0905},{"i":13,"z":0.05,"c":0.094},{"i":13,"z":0.06,"c":0.0952},{"i":13,"z":0.075,"c":0.095},{"i":13,"z":0.09,"c":0.094},{"i":13,"z":0.12,"c":0.0925},{"i":13,"z":0.15,"c":0.091},{"i":13,"z":0.3,"c":0.080},{"i":13,"z":0.5,"c":0.059},{"i":13,"z":0.7,"c":0.036},{"i":13,"z":0.85,"c":0.018},{"i":13,"z":1,"c":0},
{"i":14,"z":0,"c":0},{"i":14,"z":0.015,"c":0.039},{"i":14,"z":0.03,"c":0.072},{"i":14,"z":0.04,"c":0.084},{"i":14,"z":0.05,"c":0.0885},{"i":14,"z":0.06,"c":0.0895},{"i":14,"z":0.075,"c":0.0893},{"i":14,"z":0.09,"c":0.0888},{"i":14,"z":0.12,"c":0.0878},{"i":14,"z":0.15,"c":0.0870},{"i":14,"z":0.3,"c":0.0765},{"i":14,"z":0.5,"c":0.0555},{"i":14,"z":0.7,"c":0.0340},{"i":14,"z":0.85,"c":0.0170},{"i":14,"z":1,"c":0},
{"i":15,"z":0,"c":0},{"i":15,"z":0.015,"c":0.033},{"i":15,"z":0.03,"c":0.063},{"i":15,"z":0.04,"c":0.078},{"i":15,"z":0.05,"c":0.0855},{"i":15,"z":0.06,"c":0.0888},{"i":15,"z":0.075,"c":0.0893},{"i":15,"z":0.09,"c":0.0886},{"i":15,"z":0.12,"c":0.0874},{"i":15,"z":0.15,"c":0.0865},{"i":15,"z":0.3,"c":0.0759},{"i":15,"z":0.5,"c":0.0551},{"i":15,"z":0.7,"c":0.0337},{"i":15,"z":0.85,"c":0.0168},{"i":15,"z":1,"c":0},
{"i":16,"z":0,"c":0},{"i":16,"z":0.015,"c":0.0285},{"i":16,"z":0.03,"c":0.0555},{"i":16,"z":0.04,"c":0.071},{"i":16,"z":0.05,"c":0.081},{"i":16,"z":0.06,"c":0.0865},{"i":16,"z":0.075,"c":0.0888},{"i":16,"z":0.09,"c":0.0884},{"i":16,"z":0.12,"c":0.0870},{"i":16,"z":0.15,"c":0.0860},{"i":16,"z":0.3,"c":0.0754},{"i":16,"z":0.5,"c":0.0546},{"i":16,"z":0.7,"c":0.0334},{"i":16,"z":0.85,"c":0.0167},{"i":16,"z":1,"c":0},
{"i":17,"z":0,"c":0},{"i":17,"z":0.015,"c":0.0248},{"i":17,"z":0.03,"c":0.0485},{"i":17,"z":0.04,"c":0.0635},{"i":17,"z":0.05,"c":0.0755},{"i":17,"z":0.06,"c":0.0830},{"i":17,"z":0.075,"c":0.0878},{"i":17,"z":0.09,"c":0.0885},{"i":17,"z":0.12,"c":0.0866},{"i":17,"z":0.15,"c":0.0855},{"i":17,"z":0.3,"c":0.0748},{"i":17,"z":0.5,"c":0.0542},{"i":17,"z":0.7,"c":0.0331},{"i":17,"z":0.85,"c":0.0165},{"i":17,"z":1,"c":0},
{"i":18,"z":0,"c":0},{"i":18,"z":0.015,"c":0.021},{"i":18,"z":0.03,"c":0.0415},{"i":18,"z":0.04,"c":0.055},{"i":18,"z":0.05,"c":0.0675},{"i":18,"z":0.06,"c":0.0775},{"i":18,"z":0.075,"c":0.0860},{"i":18,"z":0.09,"c":0.0882},{"i":18,"z":0.12,"c":0.0862},{"i":18,"z":0.15,"c":0.0850},{"i":18,"z":0.3,"c":0.0742},{"i":18,"z":0.5,"c":0.0538},{"i":18,"z":0.7,"c":0.0329},{"i":18,"z":0.85,"c":0.0163},{"i":18,"z":1,"c":0},
{"i":19,"z":0,"c":0},{"i":19,"z":0.015,"c":0.018},{"i":19,"z":0.03,"c":0.036},{"i":19,"z":0.04,"c":0.0475},{"i":19,"z":0.05,"c":0.059},{"i":19,"z":0.06,"c":0.0695},{"i":19,"z":0.075,"c":0.0815},{"i":19,"z":0.09,"c":0.0865},{"i":19,"z":0.12,"c":0.0860},{"i":19,"z":0.15,"c":0.0845},{"i":19,"z":0.3,"c":0.0736},{"i":19,"z":0.5,"c":0.0534},{"i":19,"z":0.7,"c":0.0326},{"i":19,"z":0.85,"c":0.0162},{"i":19,"z":1,"c":0},
{"i":20,"z":0,"c":0},{"i":20,"z":0.015,"c":0.015},{"i":20,"z":0.03,"c":0.030},{"i":20,"z":0.04,"c":0.0398},{"i":20,"z":0.05,"c":0.0495},{"i":20,"z":0.06,"c":0.059},{"i":20,"z":0.075,"c":0.0715},{"i":20,"z":0.09,"c":0.0805},{"i":20,"z":0.12,"c":0.0862},{"i":20,"z":0.15,"c":0.0840},{"i":20,"z":0.3,"c":0.0731},{"i":20,"z":0.5,"c":0.0529},{"i":20,"z":0.7,"c":0.0323},{"i":20,"z":0.85,"c":0.0160},{"i":20,"z":1,"c":0},
{"i":21,"z":0,"c":0},{"i":21,"z":0.015,"c":0.0125},{"i":21,"z":0.03,"c":0.0248},{"i":21,"z":0.04,"c":0.033},{"i":21,"z":0.05,"c":0.041},{"i":21,"z":0.06,"c":0.049},{"i":21,"z":0.075,"c":0.060},{"i":21,"z":0.09,"c":0.070},{"i":21,"z":0.12,"c":0.0845},{"i":21,"z":0.15,"c":0.0835},{"i":21,"z":0.3,"c":0.0725},{"i":21,"z":0.5,"c":0.0525},{"i":21,"z":0.7,"c":0.0320},{"i":21,"z":0.85,"c":0.0158},{"i":21,"z":1,"c":0}
]
},
"hconcat":[
{
"width":405,"height":303,
"layer":[
{"data":{"name":"as"},"mark":{"type":"line","strokeWidth":1,"interpolate":"monotone"},
"encoding":{
"x":{"field":"z","type":"quantitative","scale":{"domain":[0,1],"nice":false},"axis":{"orient":"bottom","values":[0,0.2,0.4,0.6,0.8,1],"format":".1f","labelPadding":8,"title":"Z\u00a0\u00a0\u00a0[ − ]","titlePadding":6}},
"y":{"field":"c","type":"quantitative","scale":{"domain":[0,0.3],"nice":false},"axis":{"orient":"left","values":[0,0.05,0.1,0.15,0.2,0.25,0.3],"format":".2f","labelPadding":12,"title":"c₁\u00a0\u00a0\u00a0\u00a0[ − ]","titlePadding":8}},
"detail":{"field":"i","type":"nominal"},
"color":{"datum":"Stable branch","type":"nominal","scale":{"domain":["Stable branch","Unstable branch"],"range":["#000000","#ff0000"]},"legend":{"orient":"none","legendX":202,"legendY":9,"title":null,"symbolType":"stroke","symbolSize":625,"symbolStrokeWidth":1,"labelFontSize":17,"labelFont":"DejaVu Sans","labelColor":"#000","labelOffset":19,"rowPadding":6,"padding":0}}
}},
{"data":{"name":"au"},"mark":{"type":"line","strokeWidth":1,"interpolate":"monotone"},
"encoding":{
"x":{"field":"z","type":"quantitative","axis":{"orient":"top","labels":false,"title":null,"values":[0,0.2,0.4,0.6,0.8,1]}},
"y":{"field":"c","type":"quantitative","axis":{"orient":"right","labels":false,"title":null,"values":[0,0.05,0.1,0.15,0.2,0.25,0.3]}},
"detail":{"field":"i","type":"nominal"},
"color":{"datum":"Unstable branch","type":"nominal"}
}},
{"data":{"values":[{"z":0.262,"c":0.2627,"z2":0.1054,"c2":0.2314}]},
"layer":[
{"mark":{"type":"rule","color":"#000000","strokeWidth":1},"encoding":{"x":{"field":"z","type":"quantitative","axis":null},"y":{"field":"c","type":"quantitative","axis":null},"x2":{"field":"z2"},"y2":{"field":"c2"}}},
{"mark":{"type":"point","shape":"M-0.5,0.9L0,0L0.5,0.9","filled":false,"size":250,"angle":243.5,"color":"#000000","strokeWidth":1,"opacity":1},"encoding":{"x":{"field":"z2","type":"quantitative","axis":null},"y":{"field":"c2","type":"quantitative","axis":null}}}
]},
{"data":{"values":[{"z":0.262,"c":0.1027,"z2":0.134,"c2":0.218}]},
"layer":[
{"mark":{"type":"rule","color":"#ff0000","strokeWidth":1},"encoding":{"x":{"field":"z","type":"quantitative","axis":null},"y":{"field":"c","type":"quantitative","axis":null},"x2":{"field":"z2"},"y2":{"field":"c2"}}},
{"mark":{"type":"point","shape":"M-0.5,0.9L0,0L0.5,0.9","filled":false,"size":250,"angle":336,"color":"#ff0000","strokeWidth":1,"opacity":1},"encoding":{"x":{"field":"z2","type":"quantitative","axis":null},"y":{"field":"c2","type":"quantitative","axis":null}}}
]},
{"data":{"values":[{"z":0.155,"c":0.2762,"t":"Increasing χₛₜ"}]},"mark":{"type":"text","align":"left","baseline":"middle","fontSize":20,"font":"DejaVu Sans","color":"#000000"},"encoding":{"x":{"field":"z","type":"quantitative","axis":null},"y":{"field":"c","type":"quantitative","axis":null},"text":{"field":"t"}}},
{"data":{"values":[{"z":0.101,"c":0.0886,"t":"Increasing χₛₜ"}]},"mark":{"type":"text","align":"left","baseline":"middle","fontSize":20,"font":"DejaVu Sans","color":"#ff0000"},"encoding":{"x":{"field":"z","type":"quantitative","axis":null},"y":{"field":"c","type":"quantitative","axis":null},"text":{"field":"t"}}},
{"data":{"values":[{"z":0.01,"c":0.2827,"t":"(a)"}]},"mark":{"type":"text","align":"left","baseline":"middle","fontSize":22,"font":"DejaVu Sans","color":"#000000"},"encoding":{"x":{"field":"z","type":"quantitative","axis":null},"y":{"field":"c","type":"quantitative","axis":null},"text":{"field":"t"}}}
],
"resolve":{"axis":{"x":"independent","y":"independent"}}
},
{
"width":403,"height":303,
"layer":[
{"data":{"name":"bs"},"mark":{"type":"line","strokeWidth":1,"interpolate":"monotone"},
"encoding":{
"x":{"field":"z","type":"quantitative","scale":{"domain":[0,1],"nice":false},"axis":{"orient":"bottom","values":[0,0.2,0.4,0.6,0.8,1],"format":".1f","labelPadding":8,"title":"Z\u00a0\u00a0\u00a0[ − ]","titlePadding":6}},
"y":{"field":"c","type":"quantitative","scale":{"domain":[0,0.3],"nice":false},"axis":{"orient":"left","values":[0,0.05,0.1,0.15,0.2,0.25,0.3],"format":".2f","labelPadding":12,"title":"c₂\u00a0\u00a0\u00a0\u00a0[ − ]","titlePadding":8}},
"detail":{"field":"i","type":"nominal"},
"color":{"datum":"Stable branch","type":"nominal","scale":{"domain":["Stable branch","Unstable branch"],"range":["#000000","#ff0000"]},"legend":{"orient":"none","legendX":201,"legendY":9,"title":null,"symbolType":"stroke","symbolSize":625,"symbolStrokeWidth":1,"labelFontSize":17,"labelFont":"DejaVu Sans","labelColor":"#000","labelOffset":19,"rowPadding":6,"padding":0}}
}},
{"data":{"name":"bu"},"mark":{"type":"line","strokeWidth":1,"interpolate":"monotone"},
"encoding":{
"x":{"field":"z","type":"quantitative","axis":{"orient":"top","labels":false,"title":null,"values":[0,0.2,0.4,0.6,0.8,1]}},
"y":{"field":"c","type":"quantitative","axis":{"orient":"right","labels":false,"title":null,"values":[0,0.05,0.1,0.15,0.2,0.25,0.3]}},
"detail":{"field":"i","type":"nominal"},
"color":{"datum":"Unstable branch","type":"nominal"}
}},
{"data":{"values":[{"z":0.226,"c":0.2116,"z2":0.102,"c2":0.182}]},
"layer":[
{"mark":{"type":"rule","color":"#000000","strokeWidth":1},"encoding":{"x":{"field":"z","type":"quantitative","axis":null},"y":{"field":"c","type":"quantitative","axis":null},"x2":{"field":"z2"},"y2":{"field":"c2"}}},
{"mark":{"type":"point","shape":"M-0.5,0.9L0,0L0.5,0.9","filled":false,"size":250,"angle":239,"color":"#000000","strokeWidth":1,"opacity":1},"encoding":{"x":{"field":"z2","type":"quantitative","axis":null},"y":{"field":"c2","type":"quantitative","axis":null}}}
]},
{"data":{"values":[{"z":0.259,"c":0.0713,"z2":0.131,"c2":0.167}]},
"layer":[
{"mark":{"type":"rule","color":"#ff0000","strokeWidth":1},"encoding":{"x":{"field":"z","type":"quantitative","axis":null},"y":{"field":"c","type":"quantitative","axis":null},"x2":{"field":"z2"},"y2":{"field":"c2"}}},
{"mark":{"type":"point","shape":"M-0.5,0.9L0,0L0.5,0.9","filled":false,"size":250,"angle":332,"color":"#ff0000","strokeWidth":1,"opacity":1},"encoding":{"x":{"field":"z2","type":"quantitative","axis":null},"y":{"field":"c2","type":"quantitative","axis":null}}}
]},
{"data":{"values":[{"z":0.102,"c":0.227,"t":"Increasing χₛₜ"}]},"mark":{"type":"text","align":"left","baseline":"middle","fontSize":20,"font":"DejaVu Sans","color":"#000000"},"encoding":{"x":{"field":"z","type":"quantitative","axis":null},"y":{"field":"c","type":"quantitative","axis":null},"text":{"field":"t"}}},
{"data":{"values":[{"z":0.102,"c":0.0574,"t":"Increasing χₛₜ"}]},"mark":{"type":"text","align":"left","baseline":"middle","fontSize":20,"font":"DejaVu Sans","color":"#ff0000"},"encoding":{"x":{"field":"z","type":"quantitative","axis":null},"y":{"field":"c","type":"quantitative","axis":null},"text":{"field":"t"}}},
{"data":{"values":[{"z":0.0075,"c":0.281,"t":"(b)"}]},"mark":{"type":"text","align":"left","baseline":"middle","fontSize":22,"font":"DejaVu Sans","color":"#000000"},"encoding":{"x":{"field":"z","type":"quantitative","axis":null},"y":{"field":"c","type":"quantitative","axis":null},"text":{"field":"t"}}}
],
"resolve":{"axis":{"x":"independent","y":"independent"}}
}
],
"resolve":{"scale":{"color":"independent"},"legend":{"color":"independent"}},
"config":{
"view":{"stroke":"#000000","strokeWidth":1},
"font":"DejaVu Sans",
"axis":{"grid":false,"domain":false,"ticks":true,"tickColor":"#000000","tickSize":-6,"tickWidth":1,"labelFont":"DejaVu Sans","labelFontSize":20,"labelColor":"#000000","labelOverlap":false,"labelFlush":false,"labelBound":false,"titleFont":"Liberation Serif","titleFontStyle":"italic","titleFontWeight":"normal","titleFontSize":26,"titleColor":"#000000"},
"legend":{"labelFont":"DejaVu Sans"}
}
}
